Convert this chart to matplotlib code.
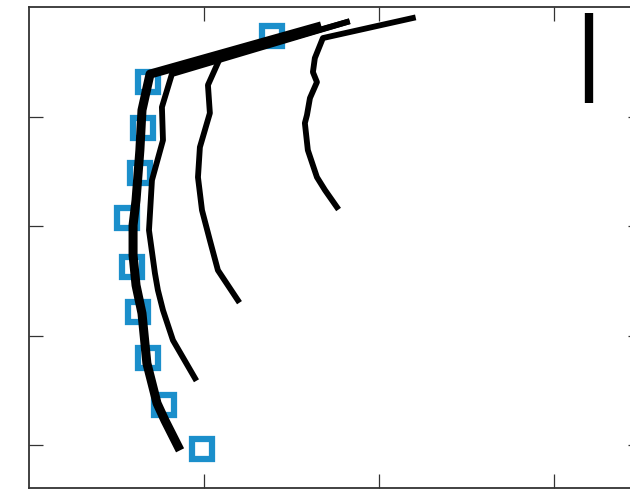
import numpy as np
import matplotlib.pyplot as plt

# measured points (hollow squares)
obs_x = [1.386, 0.677, 0.649, 0.631, 0.557, 0.586, 0.620, 0.677, 0.769, 0.986]
obs_y = [0.265, 0.685, 1.105, 1.516, 1.927, 2.374, 2.785, 3.205, 3.635, 4.037]

# model profiles, top to bottom
prof1_x = [1.643, 0.689, 0.643, 0.631, 0.609, 0.592, 0.592, 0.609, 0.643, 0.671, 0.729, 0.774, 0.849]
prof1_y = [0.183, 0.612, 0.941, 1.306, 1.763, 1.991, 2.265, 2.539, 2.795, 3.251, 3.616, 3.772, 4.009]

prof2_x = [1.814, 0.814, 0.757, 0.763, 0.700, 0.683, 0.717, 0.734, 0.763, 0.820, 0.946]
prof2_y = [0.137, 0.612, 0.913, 1.215, 1.580, 2.037, 2.429, 2.584, 2.767, 3.041, 3.388]

prof3_x = [1.814, 1.089, 1.020, 1.031, 0.974, 0.963, 0.986, 1.031, 1.077, 1.191]
prof3_y = [0.137, 0.466, 0.712, 0.968, 1.279, 1.553, 1.854, 2.128, 2.402, 2.676]

prof4_x = [2.191, 1.677, 1.631, 1.620, 1.643, 1.603, 1.586, 1.574, 1.591, 1.643, 1.689, 1.757]
prof4_y = [0.100, 0.283, 0.466, 0.594, 0.685, 0.831, 0.986, 1.059, 1.306, 1.553, 1.671, 1.826]

# scale bar
bar_x = [3.197, 3.197]
bar_y = [0.055, 0.877]

fig = plt.figure(figsize=(6.3, 4.9), dpi=100)
ax = fig.add_axes([0.0468, 0.004, 0.972, 0.9816])

ax.plot(obs_x, obs_y, 's', ms=14, mew=4.5, mec='#1b8fcb', mfc='white', zorder=2)
ax.plot(prof4_x, prof4_y, color='black', lw=4.2, zorder=3)
ax.plot(prof3_x, prof3_y, color='black', lw=4.2, zorder=3)
ax.plot(prof2_x, prof2_y, color='black', lw=4.2, zorder=3)
ax.plot(prof1_x, prof1_y, color='black', lw=6.5, zorder=4)
ax.plot(bar_x, bar_y, color='black', lw=6, solid_capstyle='butt', zorder=4)

ax.set_xlim(0, 3.5)
ax.set_ylim(4.39, 0)
ax.set_xticks([1, 2, 3])
ax.set_yticks([1, 2, 3, 4])
ax.tick_params(direction='in', length=10, width=0.9, color='#333333',
               top=True, right=True, labelbottom=False, labelleft=False)
for s in ax.spines.values():
    s.set_linewidth(1.3)
    s.set_color('#333333')

fig.savefig('out.png', dpi=100)
